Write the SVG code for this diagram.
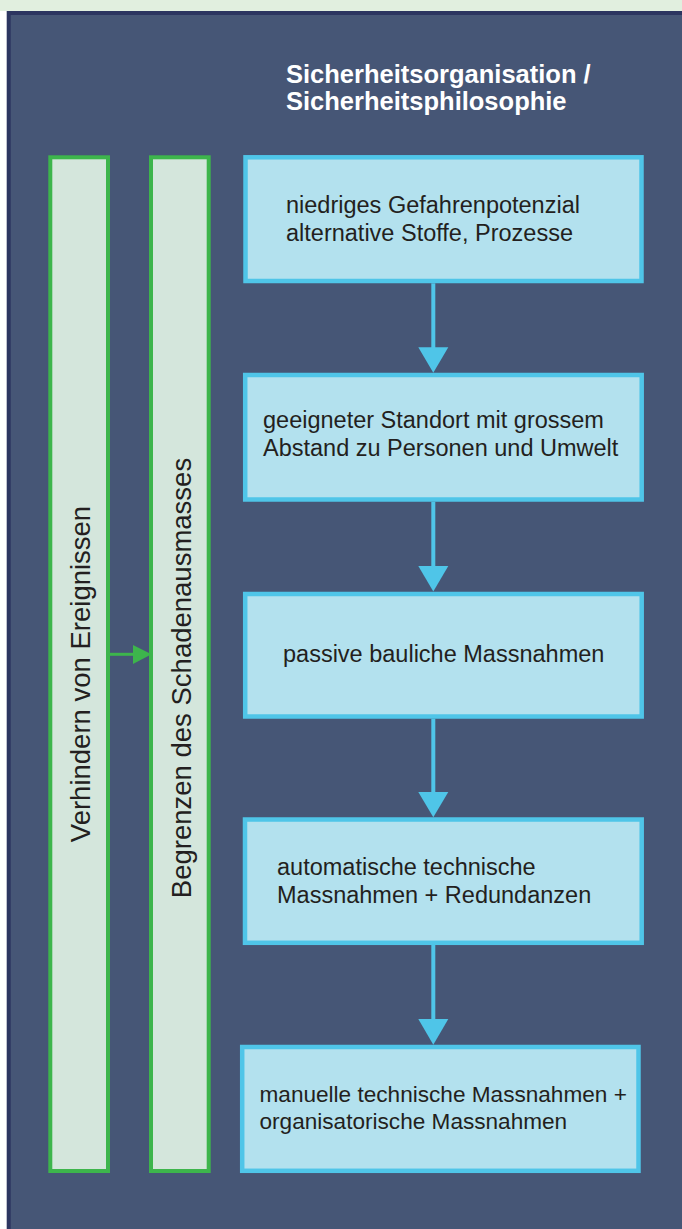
<svg xmlns="http://www.w3.org/2000/svg" width="682" height="1229" viewBox="0 0 682 1229">
<style>
.box{fill:#b3e1ee;stroke:#4fc5e8;stroke-width:4.5}
.col{fill:#d4e6dc;stroke:#3db54c;stroke-width:4}
.t{font-family:"Liberation Sans",Arial,sans-serif;font-size:23.5px;fill:#231f20}
.s{font-size:22.6px}
.v{font-family:"Liberation Sans",Arial,sans-serif;font-size:27.5px;fill:#231f20;text-anchor:middle}
.title{font-family:"Liberation Sans",Arial,sans-serif;font-size:25.5px;font-weight:bold;fill:#ffffff}
.ca{stroke:#4fc5e8;stroke-width:4;fill:none}
.ga{stroke:#3db54c;stroke-width:3;fill:none}
.ch{fill:#4fc5e8}
.gh{fill:#3db54c}
</style>
<rect x="0" y="0" width="682" height="1229" fill="#ffffff"/>
<rect x="0" y="0" width="682" height="11" fill="#e1efdf"/>
<rect id="panel" x="8.7" y="13" width="690" height="1230" fill="#465676" stroke="#2c3560" stroke-width="4"/>
<g id="title">
<text class="title" x="286" y="83">Sicherheitsorganisation /</text>
<text class="title" x="286" y="110">Sicherheitsphilosophie</text>
</g>
<g id="col1">
<rect class="col" x="50.3" y="157.3" width="57.7" height="1013.7"/>
<text class="v" transform="translate(89.5,674) rotate(-90)">Verhindern von Ereignissen</text>
</g>
<g id="col2">
<rect class="col" x="151" y="157.3" width="57.7" height="1013.7"/>
<text class="v" transform="translate(190.5,678) rotate(-90)">Begrenzen des Schadenausmasses</text>
</g>
<g id="box1">
<rect class="box" x="245.5" y="157.3" width="396" height="123.7"/>
<text class="t" x="286" y="212.5">niedriges Gefahrenpotenzial</text>
<text class="t" x="286" y="240.5">alternative Stoffe, Prozesse</text>
</g>
<g id="box2">
<rect class="box" x="245.2" y="375" width="396.5" height="124.5"/>
<text class="t" x="263" y="427.5">geeigneter Standort mit grossem</text>
<text class="t" x="263" y="455.5">Abstand zu Personen und Umwelt</text>
</g>
<g id="box3">
<rect class="box" x="245.2" y="594" width="396.5" height="122.5"/>
<text class="t" x="283" y="662">passive bauliche Massnahmen</text>
</g>
<g id="box4">
<rect class="box" x="245" y="819.5" width="396.7" height="123.3"/>
<text class="t" x="277" y="875">automatische technische</text>
<text class="t" x="277" y="903">Massnahmen + Redundanzen</text>
</g>
<g id="box5">
<rect class="box" x="242.2" y="1047" width="396.3" height="123.8"/>
<text class="t s" x="259.5" y="1101.5">manuelle technische Massnahmen +</text>
<text class="t s" x="259.5" y="1129">organisatorische Massnahmen</text>
</g>
<g id="connectors">
<line class="ca" x1="433.3" y1="283.3" x2="433.3" y2="350"/>
<path class="ch" d="M418.3,347.3 L448.3,347.3 L433.3,372.7 Z"/>
<line class="ca" x1="433.3" y1="501.7" x2="433.3" y2="568"/>
<path class="ch" d="M418.3,566 L448.3,566 L433.3,591.5 Z"/>
<line class="ca" x1="433.3" y1="718.7" x2="433.3" y2="794"/>
<path class="ch" d="M418.3,792 L448.3,792 L433.3,817.3 Z"/>
<line class="ca" x1="433.3" y1="945" x2="433.3" y2="1021"/>
<path class="ch" d="M418.3,1019 L448.3,1019 L433.3,1044.7 Z"/>
<line class="ga" x1="110" y1="654.3" x2="135" y2="654.3"/>
<path class="gh" d="M133,645 L151.5,654.3 L133,664 Z"/>
</g>
</svg>
